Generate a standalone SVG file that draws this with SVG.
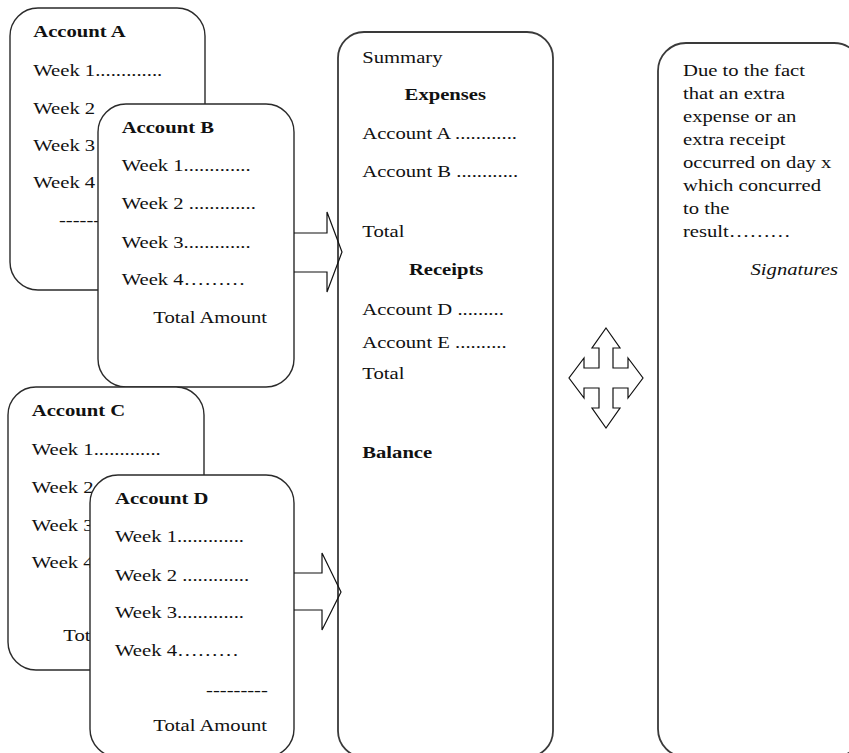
<svg xmlns="http://www.w3.org/2000/svg" width="849" height="753" viewBox="0 0 849 753">
<style>
.box{fill:#fff;stroke:#2a2a2a;stroke-width:1.4}
.cbox{fill:#fff;stroke:#3a3a3a;stroke-width:1.8}
.arr{fill:none;stroke:#111;stroke-width:1.2;stroke-linejoin:miter}
.t{font-family:"Liberation Serif","Times New Roman",serif;font-size:17.5px;fill:#111;transform:scale(1.18,1)}
.b{font-weight:bold}
.i{font-style:italic}
.m{text-anchor:middle}
.e{text-anchor:end}
</style>
<rect width="849" height="753" fill="#fff"/>
<g id="account-a">
<rect class="box" x="10" y="8" width="195" height="282" rx="28"/>
<text class="t b" x="28.2" y="37">Account A</text>
<text class="t" x="28.2" y="76">Week 1.............</text>
<text class="t" x="28.2" y="114">Week 2</text>
<text class="t" x="28.2" y="151.5">Week 3</text>
<text class="t" x="28.2" y="188">Week 4</text>
<text class="t" x="50" y="226">------</text>
</g>
<g id="account-b">
<rect class="box" x="98" y="104" width="196" height="283" rx="28"/>
<text class="t b" x="103.1" y="133">Account B</text>
<text class="t" x="103.1" y="171.5">Week 1.............</text>
<text class="t" x="103.1" y="209.5">Week 2 .............</text>
<text class="t" x="103.1" y="248">Week 3.............</text>
<text class="t" x="103.1" y="285">Week 4………</text>
<text class="t" x="129.9" y="323">Total Amount</text>
</g>
<g id="account-c">
<rect class="box" x="8" y="387" width="196" height="283" rx="28"/>
<text class="t b" x="26.9" y="416.5">Account C</text>
<text class="t" x="26.9" y="455">Week 1.............</text>
<text class="t" x="26.9" y="493">Week 2</text>
<text class="t" x="26.9" y="531.5">Week 3</text>
<text class="t" x="26.9" y="568">Week 4</text>
<text class="t" x="53.6" y="641.5">Tot</text>
</g>
<g id="account-d">
<rect class="box" x="90" y="475" width="204" height="282" rx="28"/>
<text class="t b" x="97.5" y="504">Account D</text>
<text class="t" x="97.5" y="542.3">Week 1.............</text>
<text class="t" x="97.5" y="581">Week 2 .............</text>
<text class="t" x="97.5" y="618.3">Week 3.............</text>
<text class="t" x="97.5" y="656.5">Week 4………</text>
<text class="t" x="174.6" y="696">---------</text>
<text class="t" x="129.9" y="731.5">Total Amount</text>
</g>
<g id="summary">
<rect class="cbox" x="338" y="32" width="215" height="725" rx="26"/>
<text class="t" x="307" y="63">Summary</text>
<text class="t b m" x="377.4" y="100.5">Expenses</text>
<text class="t" x="307" y="139.3">Account A ............</text>
<text class="t" x="307" y="176.7">Account B ............</text>
<text class="t" x="307" y="236.7">Total</text>
<text class="t b m" x="378.1" y="275">Receipts</text>
<text class="t" x="307" y="315">Account D .........</text>
<text class="t" x="307" y="348.3">Account E ..........</text>
<text class="t" x="307" y="379.3">Total</text>
<text class="t b" x="307" y="458.3">Balance</text>
</g>
<g id="note">
<rect class="cbox" x="658" y="43" width="204" height="714" rx="28"/>
<text class="t" x="578.8" y="76">Due to the fact</text>
<text class="t" x="578.8" y="99">that an extra</text>
<text class="t" x="578.8" y="122">expense or an</text>
<text class="t" x="578.8" y="145">extra receipt</text>
<text class="t" x="578.8" y="168">occurred on day x</text>
<text class="t" x="578.8" y="191">which concurred</text>
<text class="t" x="578.8" y="214">to the</text>
<text class="t" x="578.8" y="237">result………</text>
<text class="t i e" x="710.2" y="275">Signatures</text>
</g>
<g id="connectors">
<polyline class="arr" points="294,233 327,233 327,212 342,252 327,292 327,272 294,272"/>
<polyline class="arr" points="294,573 322,573 322,553 341,592 322,630 322,610 294,610"/>
<polygon class="arr" style="fill:#fff" points="606,328 620,348 613,348 613,368 628,368 628,358 643,378 628,398 628,388 613,388 613,408 620,408 606,428 592,408 599,408 599,388 584,388 584,398 569,378 584,358 584,368 599,368 599,348 592,348"/>
</g>
</svg>
